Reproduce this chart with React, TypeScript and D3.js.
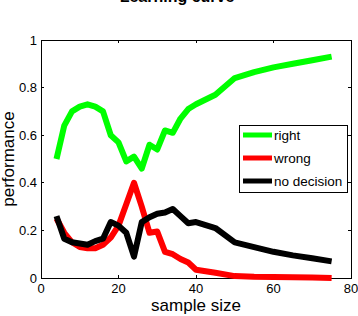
import React from "react";
import * as d3 from "d3";

const sampleSizes = [4, 6, 8, 10, 12, 14, 16, 18, 20, 22, 24, 26, 28, 30, 32, 34, 36, 38, 40, 45, 50, 55, 60, 65, 70, 75];
const rightRate = [0.5, 0.64, 0.7, 0.72, 0.73, 0.72, 0.7, 0.6, 0.57, 0.49, 0.51, 0.46, 0.56, 0.54, 0.62, 0.61, 0.67, 0.71, 0.73, 0.77, 0.84, 0.865, 0.885, 0.9, 0.915, 0.93];
const wrongRate = [0.25, 0.19, 0.15, 0.13, 0.125, 0.125, 0.14, 0.17, 0.22, 0.31, 0.4, 0.3, 0.19, 0.195, 0.11, 0.1, 0.08, 0.065, 0.035, 0.022, 0.008, 0.005, 0.004, 0.003, 0.002, 0.0];
const noDecisionRate = [0.26, 0.165, 0.15, 0.145, 0.14, 0.155, 0.165, 0.235, 0.22, 0.19, 0.09, 0.235, 0.255, 0.27, 0.275, 0.29, 0.26, 0.23, 0.235, 0.21, 0.15, 0.13, 0.11, 0.095, 0.083, 0.07];

const seriesNames = ["right", "wrong", "no decision"];
const seriesColors = ["#00ff00", "#ff0000", "#000000"];
const xTicks = [0, 20, 40, 60, 80];
const yTicks = [0, 0.2, 0.4, 0.6, 0.8, 1];

const W = 358;
const H = 316;
const plot = { left: 41, right: 351, top: 40, bottom: 278 };
const font = "'Liberation Sans', Arial, Helvetica, sans-serif";

export default function App() {
  const x = d3.scaleLinear().domain([0, 80]).range([plot.left, plot.right]);
  const y = d3.scaleLinear().domain([0, 1]).range([plot.bottom, plot.top]);

  const line = d3
    .line<number>()
    .x((_, i) => x(sampleSizes[i]))
    .y((d) => y(d));

  const series = [rightRate, wrongRate, noDecisionRate];
  const tick = 3;

  return (
    <svg
      width={W}
      height={H}
      style={{ position: "absolute", left: 0, top: 0, background: "#fff" }}
      fontFamily={font}
    >
      <rect width={W} height={H} fill="#fff" />
      {/* title, mostly outside the picture at the top */}
      <text x={177} y={2} textAnchor="middle" fontSize={16} fontWeight="bold">
        Learning curve
      </text>

      {/* box */}
      <rect
        x={plot.left}
        y={plot.top}
        width={plot.right - plot.left}
        height={plot.bottom - plot.top}
        fill="none"
        stroke="#000"
        strokeWidth={1}
        shapeRendering="crispEdges"
      />

      {xTicks.map((t) => (
        <g key={"x" + t} shapeRendering="crispEdges">
          <line x1={x(t)} x2={x(t)} y1={plot.bottom} y2={plot.bottom - tick} stroke="#000" />
          <line x1={x(t)} x2={x(t)} y1={plot.top} y2={plot.top + tick} stroke="#000" />
          <text x={x(t)} y={plot.bottom + 15} textAnchor="middle" fontSize={13}>
            {t}
          </text>
        </g>
      ))}
      {yTicks.map((t) => (
        <g key={"y" + t} shapeRendering="crispEdges">
          <line x1={plot.left} x2={plot.left + tick} y1={y(t)} y2={y(t)} stroke="#000" />
          <line x1={plot.right} x2={plot.right - tick} y1={y(t)} y2={y(t)} stroke="#000" />
          <text x={plot.left - 4} y={y(t) + 4.5} textAnchor="end" fontSize={13}>
            {d3.format("")(t)}
          </text>
        </g>
      ))}

      <text x={(plot.left + plot.right) / 2} y={311} textAnchor="middle" fontSize={17}>
        sample size
      </text>
      <text
        transform={`translate(14, ${(plot.top + plot.bottom) / 2}) rotate(-90)`}
        textAnchor="middle"
        fontSize={17}
      >
        performance
      </text>

      {series.map((s, i) => (
        <path
          key={seriesNames[i]}
          d={line(s) || ""}
          fill="none"
          stroke={seriesColors[i]}
          strokeWidth={6}
          strokeLinejoin="round"
        />
      ))}

      {/* legend */}
      <rect x={239} y={125} width={108} height={67} fill="#fff" stroke="#000" shapeRendering="crispEdges" />
      {seriesNames.map((n, i) => (
        <g key={"leg" + n}>
          <line x1={243} x2={272} y1={135 + i * 23} y2={135 + i * 23} stroke={seriesColors[i]} strokeWidth={5} />
          <text x={274} y={135 + i * 23 + 4.5} fontSize={13.5}>
            {n}
          </text>
        </g>
      ))}
    </svg>
  );
}
